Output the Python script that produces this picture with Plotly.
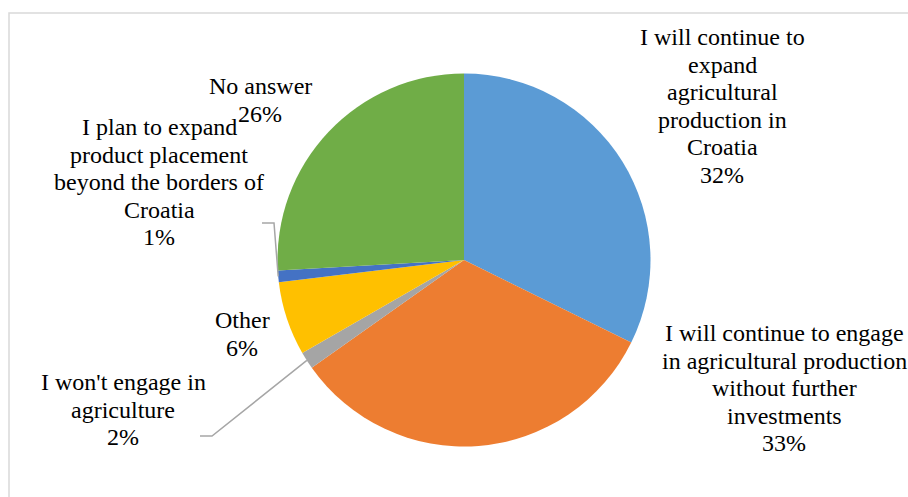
import math
import plotly.graph_objects as go

# ---- data ----
categories = [
    "I will continue to expand agricultural production in Croatia",
    "I will continue to engage in agricultural production without further investments",
    "I won't engage in agriculture",
    "Other",
    "I plan to expand product placement beyond the borders of Croatia",
    "No answer",
]
values = [32.3, 32.9, 1.5, 6.4, 1.0, 25.9]
label_lines = [
    ["I will continue to", "expand", "agricultural", "production in", "Croatia"],
    ["I will continue to engage", "in agricultural production", "without further", "investments"],
    ["I won't engage in", "agriculture"],
    ["Other"],
    ["I plan to expand", "product placement", "beyond the borders of", "Croatia"],
    ["No answer"],
]
colors = ["#5B9BD5", "#ED7D31", "#A5A5A5", "#FFC000", "#4472C4", "#70AD47"]

# ---- layout (pixels) ----
W, H = 908, 497
CX, CY, R = 464, 260, 186.5
# label anchor: (center x, first-line center y)
label_pos = [(722, 37), (784, 333), (123, 382), (242, 320), (159, 127), (260, 86)]
LINE_H = 27.6
FONT = "Liberation Serif"


def px(x):
    return x / W


def py(y):
    return 1 - y / H


fig = go.Figure()
fig.add_trace(go.Pie(
    labels=categories,
    values=values,
    sort=False,
    direction="clockwise",
    rotation=0,
    marker=dict(colors=colors, line=dict(width=0)),
    textinfo="none",
    hoverinfo="skip",
    showlegend=False,
    domain=dict(x=[px(CX - R), px(CX + R)], y=[py(CY + R), py(CY - R)]),
))

total = sum(values)
annotations = []
for lines, v, (lx, ly) in zip(label_lines, values, label_pos):
    all_lines = lines + [f"{round(v / total * 100)}%"]
    for i, t in enumerate(all_lines):
        annotations.append(dict(
            x=px(lx), y=py(ly + i * LINE_H), xref="paper", yref="paper",
            text=t, showarrow=False, xanchor="center", yanchor="middle",
            font=dict(family=FONT, size=24, color="#000000"),
        ))


def slice_mid_point(idx):
    before = sum(values[:idx])
    frac = (before + values[idx] / 2) / total
    th = 2 * math.pi * frac
    return CX + R * math.sin(th), CY - R * math.cos(th)


shapes = []
# leader for "I won't engage in agriculture"
gx, gy = slice_mid_point(2)
shapes.append(dict(
    type="path", xref="paper", yref="paper",
    path=f"M {px(gx)} {py(gy)} L {px(212)} {py(436)} L {px(200)} {py(436)}",
    line=dict(color="#A6A6A6", width=1.5),
))
# leader for "I plan to expand product placement ..."
bx, by = slice_mid_point(4)
shapes.append(dict(
    type="path", xref="paper", yref="paper",
    path=f"M {px(262)} {py(223)} L {px(274)} {py(223)} L {px(bx)} {py(by)}",
    line=dict(color="#A6A6A6", width=1.5),
))
# chart border
shapes.append(dict(
    type="rect", xref="paper", yref="paper",
    x0=px(9), y0=py(13), x1=px(W + 10), y1=py(H + 10),
    line=dict(color="#D9D9D9", width=1.5), fillcolor="rgba(0,0,0,0)",
))

fig.update_layout(
    width=W, height=H,
    margin=dict(l=0, r=0, t=0, b=0),
    paper_bgcolor="white",
    plot_bgcolor="white",
    annotations=annotations,
    shapes=shapes,
)

fig.write_html("out.html", config={"displayModeBar": False})

# remove the default browser body margin so the figure sits at the page origin
with open("out.html", "r", encoding="utf-8") as f:
    html = f.read()
html = html.replace("<head>", "<head><style>html,body{margin:0;padding:0;overflow:hidden;}</style>", 1)
with open("out.html", "w", encoding="utf-8") as f:
    f.write(html)
